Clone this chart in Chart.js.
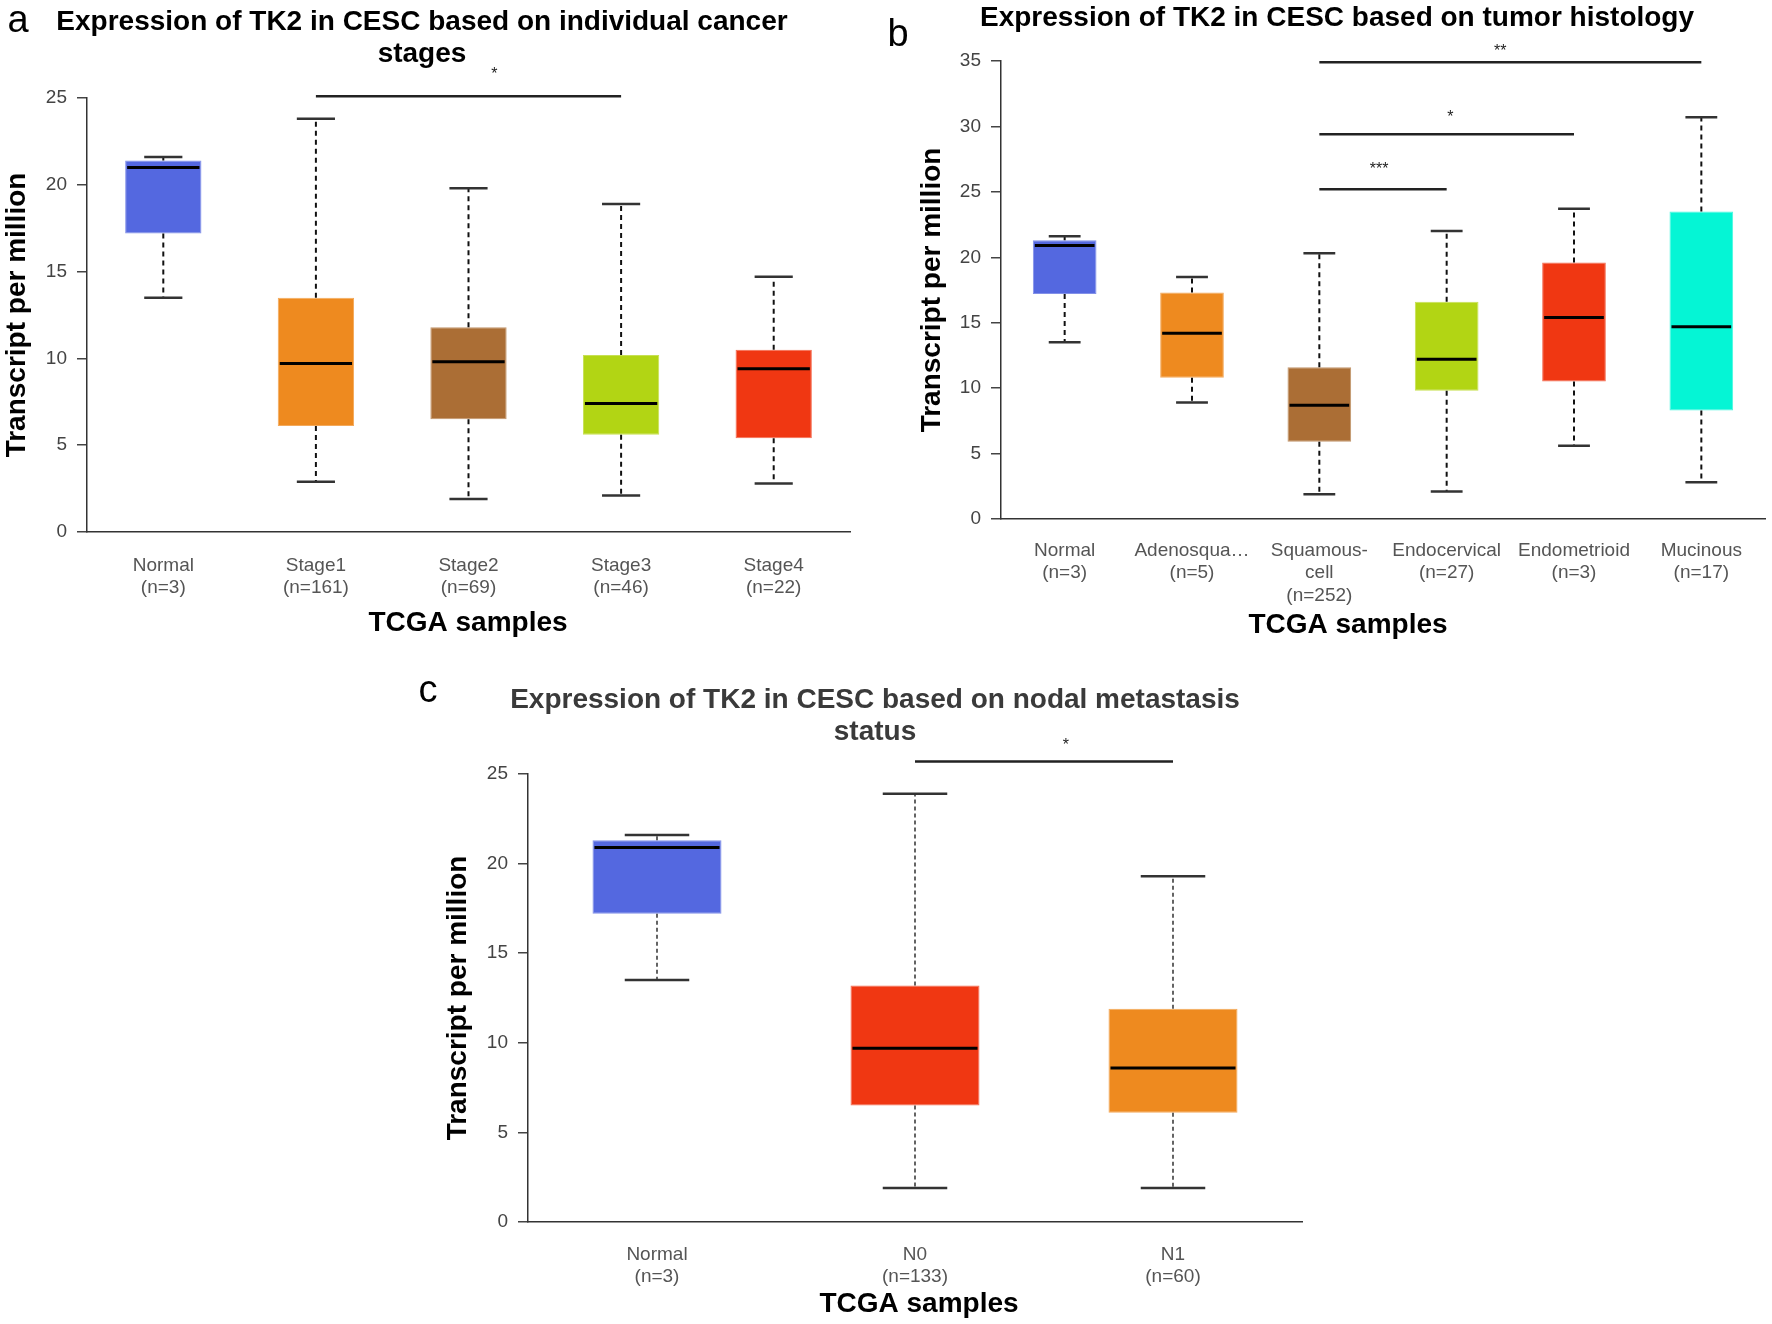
<!DOCTYPE html>
<html>
<head>
<meta charset="utf-8">
<script src="https://cdn.jsdelivr.net/npm/chart.js@4.4.1/dist/chart.umd.min.js"></script>
<style>
  html, body { margin: 0; padding: 0; background: #fff; }
  #page { position: relative; width: 1772px; height: 1324px; overflow: hidden; background: #fff; }
  canvas { position: absolute; }
</style>
</head>
<body>
<div id="page">
  <canvas id="chart-a" width="880" height="650" style="left:0px;top:0px"></canvas>
  <canvas id="chart-b" width="892" height="650" style="left:880px;top:0px"></canvas>
  <canvas id="chart-c" width="900" height="664" style="left:420px;top:660px"></canvas>
</div>
<script>
/* panel a: cancer stages */
const labelsA = [['Normal', '(n=3)'], ['Stage1', '(n=161)'], ['Stage2', '(n=69)'], ['Stage3', '(n=46)'], ['Stage4', '(n=22)']];
const minA = [13.5, 2.9, 1.9, 2.1, 2.8];
const q1A = [17.2, 6.1, 6.5, 5.6, 5.4];
const medA = [21.0, 9.7, 9.8, 7.4, 9.4];
const q3A = [21.4, 13.5, 11.8, 10.2, 10.5];
const maxA = [21.6, 23.8, 19.8, 18.9, 14.7];
const colorsA = ['#5468e0', '#ee8a1f', '#ab6e35', '#b2d514', '#f03712'];
const sigA = [{from: 1, to: 3, at: 25.1, text: '*', tx: 2.17, ty: 26.6}];

/* panel b: tumor histology */
const labelsB = [['Normal', '(n=3)'], ['Adenosqua…', '(n=5)'], ['Squamous-', 'cell', '(n=252)'], ['Endocervical', '(n=27)'], ['Endometrioid', '(n=3)'], ['Mucinous', '(n=17)']];
const minB = [13.5, 8.9, 1.9, 2.1, 5.6, 2.8];
const q1B = [17.2, 10.8, 5.9, 9.8, 10.5, 8.3];
const medB = [20.9, 14.2, 8.7, 12.2, 15.4, 14.7];
const q3B = [21.3, 17.3, 11.6, 16.6, 19.6, 23.5];
const maxB = [21.6, 18.5, 20.3, 22.0, 23.7, 30.7];
const colorsB = ['#5468e0', '#ee8a1f', '#ab6e35', '#b2d514', '#f03712', '#05f5d5'];
const sigB = [
  {from: 2, to: 3, at: 25.2, text: '***', tx: 2.47, ty: 27.0},
  {from: 2, to: 4, at: 29.4, text: '*', tx: 3.03, ty: 31.0},
  {from: 2, to: 5, at: 34.9, text: '**', tx: 3.42, ty: 36.0}
];

/* panel c: nodal metastasis */
const labelsC = [['Normal', '(n=3)'], ['N0', '(n=133)'], ['N1', '(n=60)']];
const minC = [13.5, 1.9, 1.9];
const q1C = [17.2, 6.5, 6.1];
const medC = [20.9, 9.7, 8.6];
const q3C = [21.3, 13.2, 11.9];
const maxC = [21.6, 23.9, 19.3];
const colorsC = ['#5468e0', '#f03712', '#ee8a1f'];
const sigC = [{from: 1, to: 2, at: 25.7, text: '*', tx: 1.585, ty: 26.8}];

const FONT = "'Liberation Sans', Arial, sans-serif";
Chart.defaults.font.family = FONT;

// whiskers, caps, medians, significance bars and the panel texts
const boxPlotPlugin = {
  id: 'boxPlot',
  afterDatasetsDraw(chart, args, opts) {
    const ctx = chart.ctx;
    const xScale = chart.scales.x;
    const yScale = chart.scales.y;
    const meta = chart.getDatasetMeta(0);
    ctx.save();
    meta.data.forEach((bar, i) => {
      const x = bar.x;
      const half = bar.width / 2;
      const yMin = yScale.getPixelForValue(opts.min[i]);
      const yQ1 = yScale.getPixelForValue(opts.q1[i]);
      const yMed = yScale.getPixelForValue(opts.med[i]);
      const yQ3 = yScale.getPixelForValue(opts.q3[i]);
      const yMax = yScale.getPixelForValue(opts.max[i]);

      ctx.strokeStyle = '#111';
      ctx.lineWidth = opts.whiskerWidth;
      ctx.setLineDash(opts.dash);
      ctx.beginPath();
      ctx.moveTo(x, yQ3);
      ctx.lineTo(x, yMax);
      ctx.moveTo(x, yQ1);
      ctx.lineTo(x, yMin);
      ctx.stroke();
      ctx.setLineDash([]);

      ctx.strokeStyle = '#333';
      ctx.lineWidth = opts.capWidth;
      ctx.beginPath();
      ctx.moveTo(x - half / 2, yMax);
      ctx.lineTo(x + half / 2, yMax);
      ctx.moveTo(x - half / 2, yMin);
      ctx.lineTo(x + half / 2, yMin);
      ctx.stroke();

      ctx.strokeStyle = '#000';
      ctx.lineWidth = opts.medianWidth;
      ctx.beginPath();
      ctx.moveTo(x - half + 2, yMed);
      ctx.lineTo(x + half - 2, yMed);
      ctx.stroke();
    });

    // significance bars
    for (const s of opts.sig) {
      const y = yScale.getPixelForValue(s.at);
      ctx.strokeStyle = '#222';
      ctx.lineWidth = 2.5;
      ctx.beginPath();
      ctx.moveTo(xScale.getPixelForValue(s.from), y);
      ctx.lineTo(xScale.getPixelForValue(s.to), y);
      ctx.stroke();
      ctx.fillStyle = '#222';
      ctx.font = '16px ' + FONT;
      ctx.textAlign = 'center';
      ctx.textBaseline = 'middle';
      ctx.fillText(s.text, xScale.getPixelForValue(s.tx), yScale.getPixelForValue(s.ty) + 4);
    }
    ctx.restore();
  },
  afterDraw(chart, args, opts) {
    const ctx = chart.ctx;
    ctx.save();
    ctx.textAlign = 'center';
    ctx.textBaseline = 'middle';
    ctx.fillStyle = opts.titleColor;
    ctx.font = 'bold 28px ' + FONT;
    opts.title.forEach((line, k) => {
      ctx.fillText(line, opts.titleX, opts.titleY + k * 32);
    });
    // x axis title
    ctx.fillStyle = '#000';
    ctx.fillText('TCGA samples', opts.xTitleX, opts.xTitleY);
    ctx.font = '38px ' + FONT;
    ctx.fillText(opts.letter, opts.letterX, opts.letterY);
    ctx.restore();
  }
};

function makePanel(id, p) {
  const ctx = document.getElementById(id).getContext('2d');
  return new Chart(ctx, {
    type: 'bar',
    plugins: [boxPlotPlugin],
    data: {
      labels: p.labels,
      datasets: [
        {
          data: p.q1.map((q, i) => [q, p.q3[i]]),
          backgroundColor: p.colors,
          borderColor: p.colors.map(c => c + 'bb'),
          borderWidth: 1,
          borderSkipped: false,
          barPercentage: 0.5,
          categoryPercentage: 1.0,
        },
      ],
    },
    options: {
      responsive: false,
      animation: false,
      devicePixelRatio: 1,
      layout: {padding: p.padding},
      scales: {
        x: {
          offset: true,
          grid: {display: false, drawTicks: false},
          border: {display: true, color: '#333', width: 1.5},
          ticks: {
            padding: p.xTickPad,
            color: '#555',
            font: {size: 19, lineHeight: 1.2},
            maxRotation: 0,
            autoSkip: false,
          },
          afterFit: function(scale) { scale.height = p.xHeight; },
        },
        y: {
          min: 0,
          max: p.yMax,
          grid: {drawOnChartArea: false, drawTicks: true, tickLength: 10, color: '#444', lineWidth: 1.5},
          border: {display: true, color: '#333', width: 1.5},
          ticks: {
            stepSize: 5,
            padding: 10,
            color: '#444',
            font: {size: 19},
          },
          title: {
            display: true,
            text: 'Transcript per million',
            color: '#000',
            font: {size: 28, weight: 'bold', lineHeight: 1.2},
            padding: {top: p.yTitlePad, bottom: 0},
          },
          afterFit: function(scale) { scale.width = p.yWidth; },
        },
      },
      plugins: {
        legend: {display: false},
        tooltip: {enabled: false},
        boxPlot: {
          min: p.min, q1: p.q1, med: p.med, q3: p.q3, max: p.max,
          sig: p.sig,
          whiskerWidth: p.whiskerWidth,
          dash: p.dash,
          capWidth: 2.5,
          medianWidth: 3,
          title: p.title,
          titleX: p.titleX,
          titleY: p.titleY,
          titleColor: p.titleColor,
          xTitleX: p.xTitleX,
          xTitleY: p.xTitleY,
          letter: p.letter,
          letterX: p.letterX,
          letterY: p.letterY,
        },
      },
    },
  });
}

makePanel('chart-a', {
  labels: labelsA, min: minA, q1: q1A, med: medA, q3: q3A, max: maxA, colors: colorsA, sig: sigA,
  yMax: 25, padding: {top: 98, right: 30, bottom: 0, left: 0},
  yWidth: 87, yTitlePad: 0, xHeight: 118, xTickPad: 22,
  whiskerWidth: 2, dash: [5, 4],
  title: ['Expression of TK2 in CESC based on individual cancer', 'stages'],
  titleX: 422, titleY: 22, titleColor: '#000',
  xTitleX: 468, xTitleY: 623,
  letter: 'a', letterX: 18, letterY: 22,
});

makePanel('chart-b', {
  labels: labelsB, min: minB, q1: q1B, med: medB, q3: q3B, max: maxB, colors: colorsB, sig: sigB,
  yMax: 35, padding: {top: 61, right: 7, bottom: 0, left: 0},
  yWidth: 121, yTitlePad: 35, xHeight: 131, xTickPad: 20,
  whiskerWidth: 2, dash: [5, 4],
  title: ['Expression of TK2 in CESC based on tumor histology'],
  titleX: 457, titleY: 18, titleColor: '#000',
  xTitleX: 468, xTitleY: 625,
  letter: 'b', letterX: 18, letterY: 36,
});

makePanel('chart-c', {
  labels: labelsC, min: minC, q1: q1C, med: medC, q3: q3C, max: maxC, colors: colorsC, sig: sigC,
  yMax: 25, padding: {top: 114, right: 18, bottom: 0, left: 0},
  yWidth: 108, yTitlePad: 21, xHeight: 102, xTickPad: 21,
  whiskerWidth: 1.3, dash: [4, 3],
  title: ['Expression of TK2 in CESC based on nodal metastasis', 'status'],
  titleX: 455, titleY: 40, titleColor: '#3a3a3a',
  xTitleX: 499, xTitleY: 644,
  letter: 'c', letterX: 8, letterY: 32,
});
</script>
</body>
</html>
